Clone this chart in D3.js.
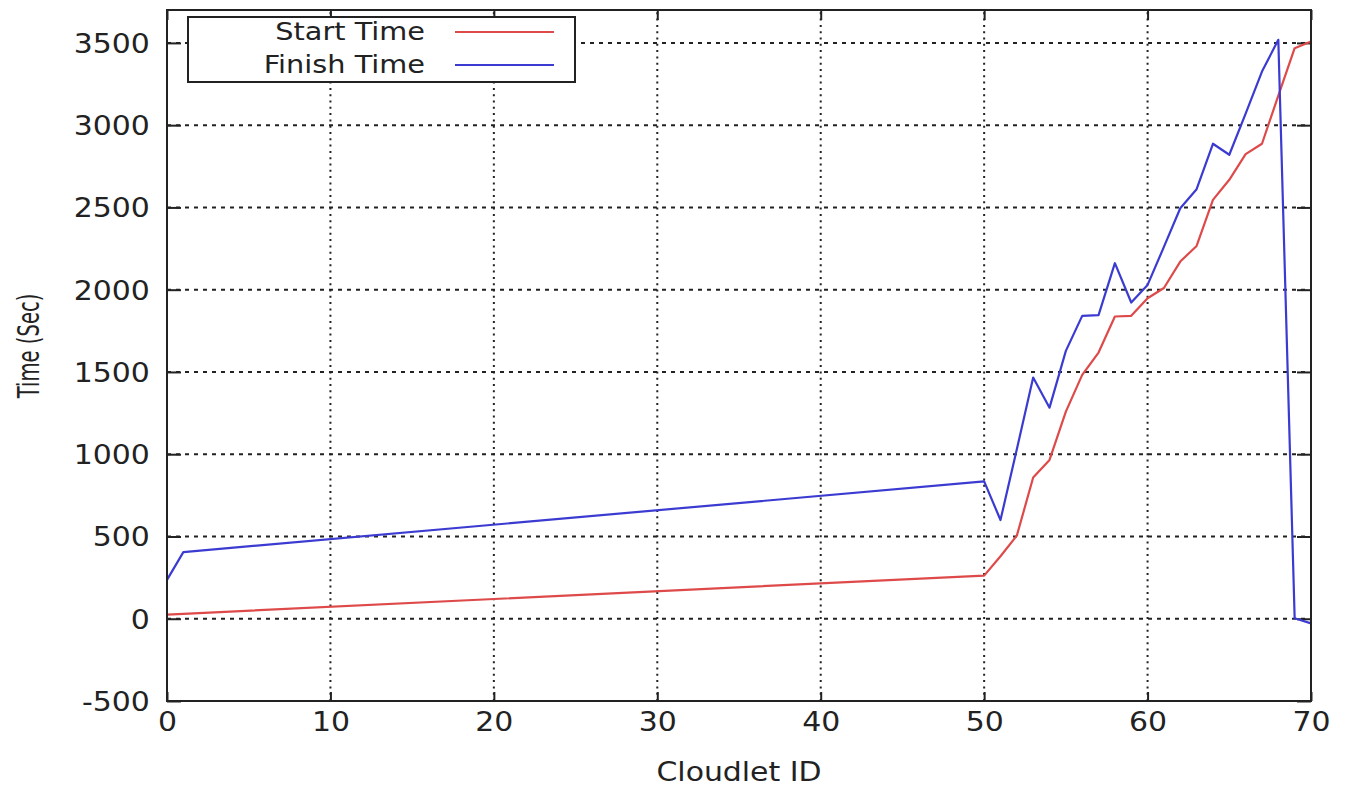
<!DOCTYPE html>
<html>
<head>
<meta charset="utf-8">
<script src="https://cdn.jsdelivr.net/npm/d3@7"></script>
<style>
  body { margin: 0; background: #fff; }
  text { font-family: "DejaVu Sans", sans-serif; fill: #222; }
</style>
</head>
<body>
<svg id="chart"></svg>
<script>
// cloudlet start / finish times
var W = 1346, H = 787;
var margin = {top: 10, right: 35, bottom: 86, left: 167};
var SX = 1.15; // picture is stretched sideways a bit

var cloudletIds = [0, 1, 50, 51, 52, 53, 54, 55, 56, 57, 58, 59, 60,
                   61, 62, 63, 64, 65, 66, 67, 68, 69, 70];
var startTime  = [25, 30, 262, 380, 505, 858, 965, 1259, 1482, 1618, 1837, 1841, 1948,
                  2010, 2171, 2266, 2546, 2668, 2824, 2887, 3180, 3468, 3508];
var finishTime = [236, 405, 835, 600, 1030, 1466, 1283, 1628, 1841, 1845, 2161, 1922, 2029,
                  2260, 2495, 2611, 2887, 2820, 3070, 3326, 3519, 3, -28];
var xTicks = [0, 10, 20, 30, 40, 50, 60, 70];
var yTicks = [-500, 0, 500, 1000, 1500, 2000, 2500, 3000, 3500];
var seriesNames = ["Start Time", "Finish Time"];
var seriesColors = ["#de4a4a", "#3b3bd2"];

var svg = d3.select("#chart")
  .attr("width", W)
  .attr("height", H);

svg.append("rect")
  .attr("width", "100%")
  .attr("height", "100%")
  .attr("fill", "white");

var x = d3.scaleLinear()
  .domain([0, 70])
  .range([margin.left, W - margin.right]);

var y = d3.scaleLinear()
  .domain([-500, 3700])
  .range([H - margin.bottom, margin.top]);

var plain = d => String(d); // "3500", "-500" like gnuplot

// grid
svg.append("g")
  .selectAll("line")
  .data(yTicks.filter(d => d > -500))
  .enter().append("line")
  .attr("x1", x(0)).attr("x2", x(70))
  .attr("y1", d => y(d)).attr("y2", d => y(d))
  .attr("stroke", "#222")
  .attr("stroke-width", 2)
  .attr("stroke-dasharray", "4,5");

svg.append("g")
  .selectAll("line")
  .data(xTicks.filter(d => d > 0 && d < 70))
  .enter().append("line")
  .attr("x1", d => x(d)).attr("x2", d => x(d))
  .attr("y1", y(-500)).attr("y2", y(3700))
  .attr("stroke", "#222")
  .attr("stroke-width", 2)
  .attr("stroke-dasharray", "2,4.3");

// axes
var xAxis = g => g
  .attr("transform", `translate(0,${y(-500)})`)
  .call(d3.axisBottom(x).tickValues(xTicks).tickFormat(plain)
    .tickSizeInner(-9).tickSizeOuter(0).tickPadding(12))
  .call(g => g.select(".domain").remove());

var yAxis = g => g
  .attr("transform", `translate(${x(0)},0)`)
  .call(d3.axisLeft(y).tickValues(yTicks).tickFormat(plain)
    .tickSizeInner(-14).tickSizeOuter(0).tickPadding(15))
  .call(g => g.select(".domain").remove());

var gx = svg.append("g").call(xAxis);
var gy = svg.append("g").call(yAxis);

[gx, gy].forEach(g => {
  g.selectAll("line").attr("stroke", "#222").attr("stroke-width", 2);
  g.selectAll("text")
    .style("font-size", "26px")
    .attr("fill", "#222")
    .attr("transform", `scale(${SX},1)`);
});
gy.selectAll("text").attr("dy", "0.36em");

// mirror ticks top / right
svg.append("g")
  .attr("transform", `translate(0,${y(3700)})`)
  .call(d3.axisTop(x).tickValues(xTicks).tickSizeInner(-10).tickSizeOuter(0).tickFormat(""))
  .call(g => g.select(".domain").remove())
  .selectAll("line").attr("stroke", "#222").attr("stroke-width", 2);

svg.append("g")
  .attr("transform", `translate(${x(70)},0)`)
  .call(d3.axisRight(y).tickValues(yTicks).tickSizeInner(-14).tickSizeOuter(0).tickFormat(""))
  .call(g => g.select(".domain").remove())
  .selectAll("line").attr("stroke", "#222").attr("stroke-width", 2);

// lines
var line = d3.line()
  .x((d, i) => x(cloudletIds[i]))
  .y(d => y(d));

[startTime, finishTime].forEach((s, i) => {
  svg.append("path")
    .datum(s)
    .attr("fill", "none")
    .attr("stroke", seriesColors[i])
    .attr("stroke-width", 2.2)
    .attr("stroke-linejoin", "round")
    .attr("d", line);
});

// frame
svg.append("rect")
  .attr("x", x(0))
  .attr("y", y(3700))
  .attr("width", x(70) - x(0))
  .attr("height", y(-500) - y(3700))
  .attr("fill", "none")
  .attr("stroke", "#222")
  .attr("stroke-width", 2);

// legend
var legend = svg.append("g");
legend.append("rect")
  .attr("x", 188).attr("y", 17)
  .attr("width", 387).attr("height", 65)
  .attr("fill", "white")
  .attr("stroke", "#222")
  .attr("stroke-width", 2);

seriesNames.forEach((name, i) => {
  var ly = 32 + i * 33;
  legend.append("g")
    .attr("transform", `translate(425,${ly + 8}) scale(${SX},1)`)
    .append("text")
    .attr("text-anchor", "end")
    .style("font-size", "25px")
    .text(name);
  legend.append("line")
    .attr("x1", 455).attr("x2", 554)
    .attr("y1", ly).attr("y2", ly)
    .attr("stroke", seriesColors[i])
    .attr("stroke-width", 2.2);
});

// axis titles
svg.append("g")
  .attr("transform", `translate(${(x(0) + x(70)) / 2},781) scale(${SX},1)`)
  .append("text")
  .attr("text-anchor", "middle")
  .style("font-size", "26px")
  .text("Cloudlet ID");

svg.append("g")
  .attr("transform", "translate(39,346) scale(1.05,0.7) rotate(-90)")
  .append("text")
  .attr("text-anchor", "middle")
  .style("font-size", "28px")
  .text("Time (Sec)");
</script>
</body>
</html>
